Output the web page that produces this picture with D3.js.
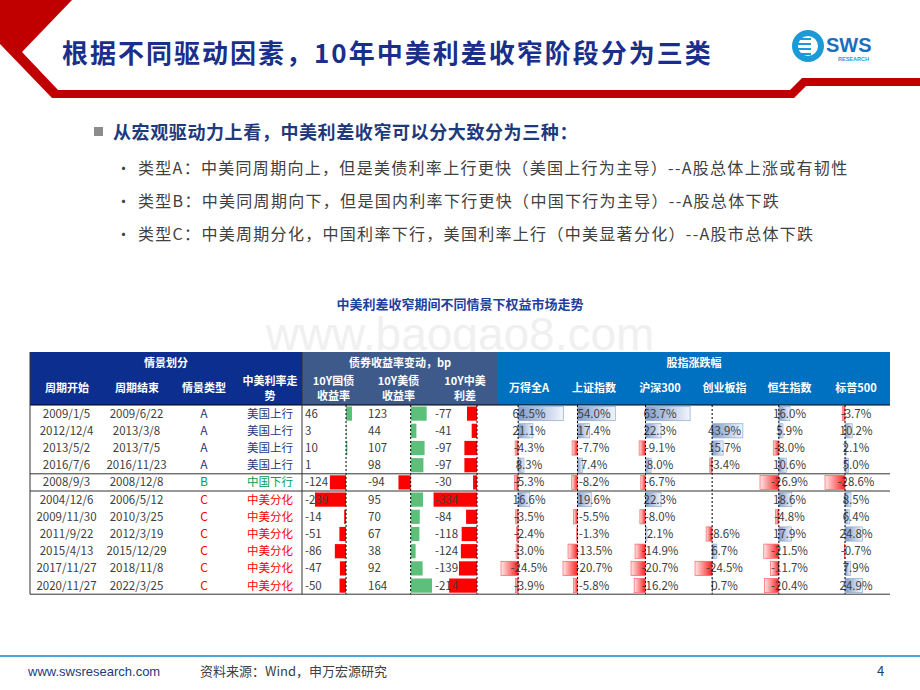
<!DOCTYPE html>
<html><head><meta charset="utf-8">
<script src="https://cdn.jsdelivr.net/npm/d3@7"></script>
<style>body{margin:0;background:#fff}svg{display:block;font-family:"Noto Sans CJK SC","Noto Sans",sans-serif}</style>
</head><body><svg id="c" width="920" height="690"></svg>
<script>
const starts=["2009/1/5","2012/12/4","2013/5/2","2016/7/6","2008/9/3","2004/12/6","2009/11/30","2011/9/22","2015/4/13","2017/11/27","2020/11/27"];
const ends=["2009/6/22","2013/3/8","2013/7/5","2016/11/23","2008/12/8","2006/5/12","2010/3/25","2012/3/19","2015/12/29","2018/11/8","2022/3/25"];
const types=["A","A","A","A","B","C","C","C","C","C","C"];
const trends=["美国上行","美国上行","美国上行","美国上行","中国下行","中美分化","中美分化","中美分化","中美分化","中美分化","中美分化"];
const cn10y=[46,3,10,1,-124,-239,-14,-51,-86,-47,-50];
const us10y=[123,44,107,98,-94,95,70,67,38,92,164];
const spread=[-77,-41,-97,-97,-30,-334,-84,-118,-124,-139,-214];
const windA=[64.5,21.1,-4.3,8.3,-5.3,16.6,-3.5,-2.4,-3.0,-24.5,-3.9];
const sse=[54.0,17.4,-7.7,7.4,-8.2,19.6,-5.5,-1.3,-13.5,-20.7,-5.8];
const hs300=[63.7,22.3,-9.1,8.0,-6.7,22.3,-8.0,2.1,-14.9,-20.7,-16.2];
const chinext=[null,43.9,15.7,-3.4,null,null,null,-8.6,6.7,-24.5,0.7];
const hsi=[16.0,5.9,-8.0,10.6,-26.9,18.6,-4.8,17.9,-21.5,-11.7,-20.4];
const spx=[-3.7,10.2,2.1,5.0,-28.6,8.5,6.4,24.8,-0.7,7.9,24.9];
const leftHeads=["周期开始","周期结束","情景类型","中美利率走势"];
const bondHeads=["10Y国债收益率","10Y美债收益率","10Y中美利差"];
const stockHeads=["万得全A","上证指数","沪深300","创业板指","恒生指数","标普500"];

const svg=d3.select("#c");
const defs=svg.append("defs");
const gb=defs.append("linearGradient").attr("id","gb");
gb.append("stop").attr("offset","0").attr("stop-color","#7f9ccc");
gb.append("stop").attr("offset","1").attr("stop-color","#f2f5fb");
const gr=defs.append("linearGradient").attr("id","gr").attr("x1","1").attr("x2","0");
gr.append("stop").attr("offset","0").attr("stop-color","#ff2020");
gr.append("stop").attr("offset","1").attr("stop-color","#fde8e8");

// header frame
svg.append("path").attr("d","M0,0 L72,0 L22,52 L58,90 L790,90 L802,78 L920,78 L920,86 L806,86 L794,98 L52,98 L0,44 Z").attr("fill","#c00000");
svg.append("text").attr("x",62).attr("y",63).attr("font-size",26).attr("letter-spacing",2).attr("font-weight","bold").attr("fill","#1a2f8a").text("根据不同驱动因素，10年中美利差收窄阶段分为三类");
// logo
const lg=svg.append("g");
lg.append("circle").attr("cx",808).attr("cy",46).attr("r",13).attr("fill","none").attr("stroke","#1a9ad6").attr("stroke-width",6);
[38,43,48,53].forEach(y=>lg.append("rect").attr("x",795).attr("y",y).attr("width",16).attr("height",2).attr("fill","#1a9ad6"));
lg.append("text").attr("x",826).attr("y",52).attr("font-size",20).attr("font-weight","bold").attr("fill","#1a6fc0").attr("font-family","Liberation Sans").text("SWS");
lg.append("text").attr("x",838).attr("y",61).attr("font-size",5.5).attr("font-weight","bold").attr("fill","#1a9ad6").attr("font-family","Liberation Sans").text("RESEARCH");

// bullets
svg.append("rect").attr("x",94).attr("y",127).attr("width",9).attr("height",9).attr("fill","#8c8c8c");
svg.append("text").attr("x",113).attr("y",139).attr("font-size",18).attr("letter-spacing",0.6).attr("font-weight","bold").attr("fill","#1f3a7a").text("从宏观驱动力上看，中美利差收窄可以分大致分为三种：");
const subs=["类型A：中美同周期向上，但是美债利率上行更快（美国上行为主导）--A股总体上涨或有韧性","类型B：中美同周期向下，但是国内利率下行更快（中国下行为主导）--A股总体下跌","类型C：中美周期分化，中国利率下行，美国利率上行（中美显著分化）--A股市总体下跌"];
subs.forEach((s,i)=>{const y=174+i*33;
 svg.append("text").attr("x",116).attr("y",y).attr("font-size",15).attr("fill","#404040").text("•");
 svg.append("text").attr("x",138).attr("y",y).attr("font-size",16).attr("letter-spacing",1.3).attr("fill","#404040").text(s);});
svg.append("text").attr("x",460).attr("y",350).attr("text-anchor","middle").attr("font-size",46).attr("fill","#f0f0f0").attr("font-family","Liberation Sans").text("www.baogao8.com");
svg.append("text").attr("x",460).attr("y",309).attr("text-anchor","middle").attr("font-size",13).attr("font-weight","bold").attr("fill","#1f3f9f").text("中美利差收窄期间不同情景下权益市场走势");

// table
const T=352,H2=405,RH=17.2,N=starts.length,bottom=H2+RH*N;
const y=d3.scaleLinear().domain([0,N]).range([H2,bottom]);
const leftX=[30,103,170,238,302], bondX=[302,365,432,498], stockX=[498,560,628,692,757,822,890];
const bondPadR=[13,0,21];
svg.append("rect").attr("x",30).attr("y",T).attr("width",272).attr("height",H2-T).attr("fill","#0c2f8f");
svg.append("rect").attr("x",302).attr("y",T).attr("width",196).attr("height",H2-T).attr("fill","#3d5a8a");
svg.append("rect").attr("x",498).attr("y",T).attr("width",392).attr("height",H2-T).attr("fill","#0070c0");
const ht=(x,yy,t,fs)=>svg.append("text").attr("x",x).attr("y",yy).attr("text-anchor","middle").attr("font-size",fs||11).attr("font-weight","bold").attr("fill","#fff").text(t);
ht(166,367,"情景划分");ht(400,367,"债券收益率变动，bp");ht(694,367,"股指涨跌幅");
ht(67,392,leftHeads[0]);ht(137,392,leftHeads[1]);ht(204,392,leftHeads[2]);
ht(270,385,"中美利率走");ht(270,400,"势");
bondHeads.forEach((h,i)=>{const cx=(bondX[i]+bondX[i+1])/2;ht(cx,385,h.slice(0,5));ht(cx,400,h.slice(5));});
stockHeads.forEach((h,i)=>ht((stockX[i]+stockX[i+1])/2,392,h));

const tc=t=>t==="A"?"#1f3a7a":t==="B"?"#00a050":"#ff0000";
const cy=i=>(y(i)+y(i+1))/2+4;
for(let i=0;i<N;i++){
 [[starts,0],[ends,1]].forEach(([a,k])=>svg.append("text").attr("x",(leftX[k]+leftX[k+1])/2).attr("y",cy(i)).attr("text-anchor","middle").attr("font-size",11.5).attr("fill","#404040").text(a[i]));
 svg.append("text").attr("x",204).attr("y",cy(i)).attr("text-anchor","middle").attr("font-size",12).attr("fill",tc(types[i])).text(types[i]);
 svg.append("text").attr("x",270).attr("y",cy(i)).attr("text-anchor","middle").attr("font-size",11.5).attr("fill",tc(types[i])).text(trends[i]);
}
// bond bars
const bondData=[cn10y,us10y,spread];
bondData.forEach((arr,c)=>{
 const mn=Math.min(0,d3.min(arr)),mx=Math.max(0,d3.max(arr));
 const k=0.13, axis=bondX[c+1]-bondPadR[c]-mx*k;
 const x=d3.scaleLinear().domain([mn,mx]).range([axis+mn*k,axis+mx*k]);
 arr.forEach((v,i)=>{
  svg.append("rect").attr("x",Math.min(x(0),x(v))).attr("y",y(i)+1.5).attr("width",Math.abs(x(v)-x(0))).attr("height",RH-3).attr("fill",v<0?"#ff0000":"#5cbf7a");
  svg.append("text").attr("x",bondX[c]+3).attr("y",cy(i)).attr("font-size",11.5).attr("fill","#404040").text(v);
 });
 svg.append("line").attr("x1",x(0)).attr("x2",x(0)).attr("y1",H2).attr("y2",bottom).attr("stroke","#000").attr("stroke-dasharray","2,2");
});
// stock bars
const stockData=[windA,sse,hs300,chinext,hsi,spx];
stockData.forEach((arr,c)=>{
 const vals=arr.filter(v=>v!=null);
 const mn=Math.min(0,d3.min(vals)),mx=Math.max(0,d3.max(vals));
 const k=0.7, axis=stockX[c]+3-mn*k;
 const x=d3.scaleLinear().domain([mn,mx]).range([axis+mn*k,axis+mx*k]);
 arr.forEach((v,i)=>{
  if(v==null)return;
  svg.append("rect").attr("x",Math.min(x(0),x(v))).attr("y",y(i)+1.5).attr("width",Math.abs(x(v)-x(0))).attr("height",RH-3)
   .attr("fill",v<0?"url(#gr)":"url(#gb)").attr("stroke",v<0?"#ff6060":"#8fa8d0").attr("stroke-width",0.7);
  svg.append("text").attr("x",(stockX[c]+stockX[c+1])/2).attr("y",cy(i)).attr("text-anchor","middle").attr("font-size",11.5).attr("fill","#404040").text(v.toFixed(1)+"%");
 });
 svg.append("line").attr("x1",x(0)).attr("x2",x(0)).attr("y1",H2).attr("y2",bottom).attr("stroke","#000").attr("stroke-dasharray","2,2");
});
// grid lines
[[H2,"#000"],[y(4),"#333"],[y(5),"#333"],[bottom,"#333"]].forEach(([yy,c])=>svg.append("line").attr("x1",30).attr("x2",890).attr("y1",yy).attr("y2",yy).attr("stroke",c).attr("stroke-width",1));
svg.append("line").attr("x1",302).attr("x2",302).attr("y1",T).attr("y2",bottom).attr("stroke","#333");
svg.append("line").attr("x1",30).attr("x2",30).attr("y1",T).attr("y2",bottom).attr("stroke","#333");

// footer
svg.append("line").attr("x1",0).attr("x2",920).attr("y1",656).attr("y2",656).attr("stroke","#4aa8d8").attr("stroke-width",2);
svg.append("text").attr("x",28).attr("y",676).attr("font-size",13).attr("fill","#1f3a7a").attr("font-family","Liberation Sans Narrow, Liberation Sans").text("www.swsresearch.com");
svg.append("text").attr("x",200).attr("y",676).attr("font-size",13).attr("fill","#404040").text("资料来源：Wind，申万宏源研究");
svg.append("text").attr("x",877).attr("y",676).attr("font-size",13).attr("fill","#1f3a7a").text("4");
</script></body></html>
